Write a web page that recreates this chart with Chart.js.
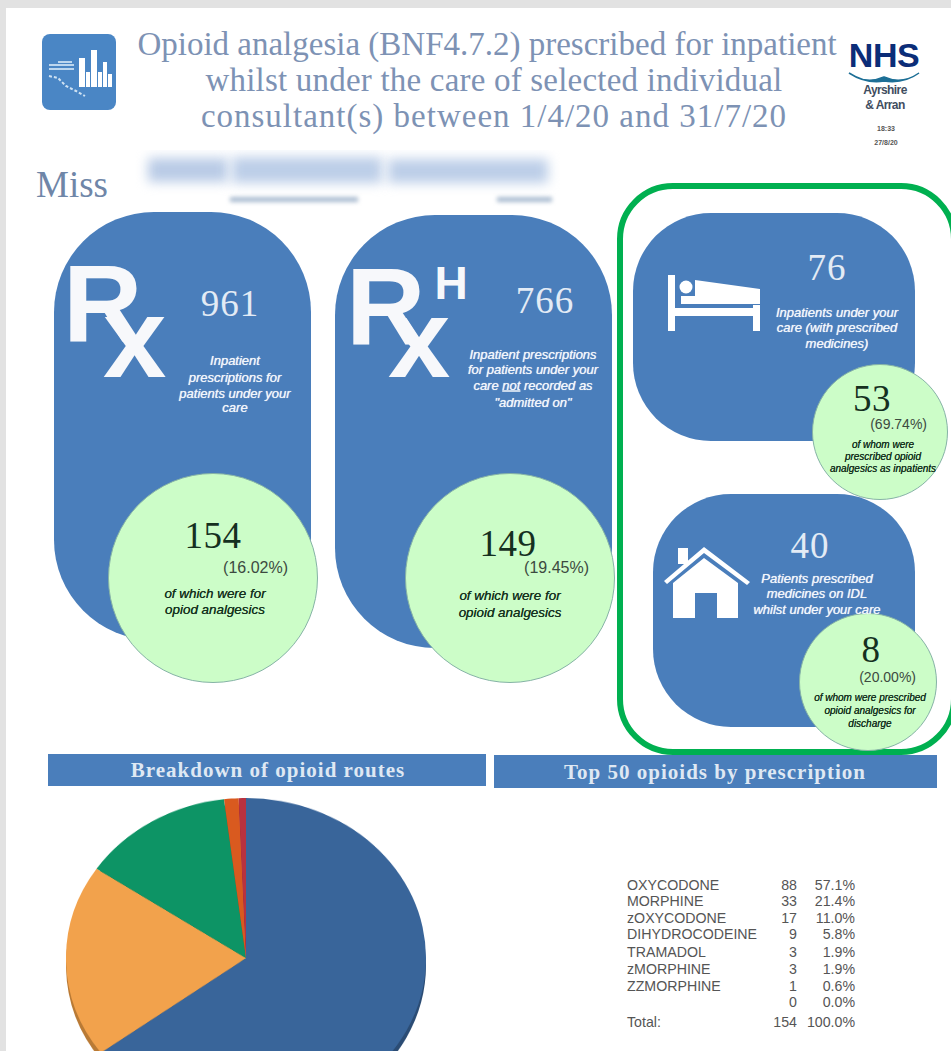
<!DOCTYPE html>
<html>
<head>
<meta charset="utf-8">
<title>Opioid analgesia prescribing</title>
<script src="https://cdn.jsdelivr.net/npm/chart.js@4"></script>
<style>
html, body { margin: 0; padding: 0; }
body { width: 951px; height: 1051px; overflow: hidden; background: #e2e2e2; position: relative; font-family: "Liberation Sans", sans-serif; }
#hoja { position: absolute; left: 6px; top: 8px; right: 0; bottom: 0; background: #fff; }
.abs { position: absolute; }
.txt { position: absolute; white-space: nowrap; line-height: 1; }
.panel { position: absolute; background: #4a7ebb; }
.circle { position: absolute; border-radius: 50%; background: #ccfdc8; box-sizing: border-box; border: 1.5px solid #86b3a6; }
.bar { position: absolute; background: #4a7ebb; }
canvas { position: absolute; }
</style>
</head>
<body>
<div id="hoja"></div>
<script>
// Pie: prescriptions per route
const routeLabels = ['Route 1', 'Route 2', 'Route 3', 'Route 4', 'Route 5'];
const routeCounts = [100, 30, 21, 2, 1];
const routeColours = ['#39659a', '#f2a24c', '#0d9465', '#d95a1f', '#b8323f'];
const routeRimColours = ['#2b4c74', '#b97a35', '#0a6e4b', '#a04318', '#8a2530'];

// Table: top opioids
const opioidNames = ['OXYCODONE', 'MORPHINE', 'zOXYCODONE', 'DIHYDROCODEINE', 'TRAMADOL', 'zMORPHINE', 'ZZMORPHINE', ''];
const opioidCounts = ['88', '33', '17', '9', '3', '3', '1', '0'];
const opioidShares = ['57.1%', '21.4%', '11.0%', '5.8%', '1.9%', '1.9%', '0.6%', '0.0%'];
const opioidRowY = [885, 901, 918, 934, 952, 969, 986, 1002];
const opioidTotal = ['Total:', '154', '100.0%'];

// Headline numbers on the cards
const cardTotals = ['961', '766', '76', '40'];
const cardOpioids = ['154', '149', '53', '8'];
const cardShares = ['(16.02%)', '(19.45%)', '(69.74%)', '(20.00%)'];

const titleLines = [
    'Opioid analgesia (BNF4.7.2) prescribed for inpatient',
    'whilst under the care of selected individual',
    'consultant(s) between 1/4/20 and 31/7/20'
];

const SERIF = '"Liberation Serif", serif';
const WHITEISH = '#e3ebf5';

// anchor: 'c' centred on x, 'r' right edge on x, 'l' left edge on x. y is always the middle of the text
function put(text, x, y, css, anchor) {
    const d = document.createElement('div');
    d.className = 'txt';
    d.innerHTML = text;
    d.style.cssText = `left:${x}px;top:${y}px;` + css;
    const tx = anchor === 'r' ? '-100%' : anchor === 'l' ? '0' : '-50%';
    d.style.transform = `translate(${tx},-50%)`;
    document.body.appendChild(d);
    return d;
}

function box(cls, x, y, w, h, radius) {
    const d = document.createElement('div');
    d.className = cls;
    d.style.cssText = `left:${x}px;top:${y}px;width:${w}px;height:${h}px;` + (radius ? `border-radius:${radius}px;` : '');
    document.body.appendChild(d);
    return d;
}

function circle(cx, cy, r) {
    return box('circle', cx - r, cy - r, r * 2, r * 2);
}

function svg(x, y, w, h, inner) {
    const d = document.createElement('div');
    d.className = 'abs';
    d.style.cssText = `left:${x}px;top:${y}px;width:${w}px;height:${h}px;`;
    d.innerHTML = `<svg width="${w}" height="${h}" viewBox="0 0 ${w} ${h}" style="display:block">${inner}</svg>`;
    document.body.appendChild(d);
}

// small white italic captions on the blue cards
function caption(lines, x, ys, size) {
    lines.forEach((l, i) => put(l, x, ys[i], `font:italic ${size}px "Liberation Sans";color:#f2f6fb;text-shadow:0 0 0.7px #f2f6fb;`, 'c'));
}
function darkCaption(lines, x, ys, size) {
    lines.forEach((l, i) => put(l, x, ys[i], `font:italic ${size}px "Liberation Sans";color:#16331f;text-shadow:0 0 0.5px #16331f;`, 'c'));
}

// ---- header ----
const titleY = [44, 80, 116];
const titleX = [487, 494, 494];
const titleSpacing = [0, 0.2, 1];
titleLines.forEach((l, i) => {
    put(l, titleX[i], titleY[i], `font:33px ${SERIF};color:#7d92b4;letter-spacing:${titleSpacing[i]}px;`, 'c');
});
put('Miss', 36, 184, `font:37px ${SERIF};color:#6f86a8;`, 'l');

// report icon, top left
svg(42, 34, 74, 76, `
  <rect width="74" height="76" rx="8" fill="#4a86c5"/>
  <g fill="#fff">
    <rect x="37" y="24" width="6" height="29"/><rect x="44" y="38" width="4" height="15"/>
    <rect x="49" y="16" width="6" height="37"/><rect x="56" y="38" width="4" height="15"/>
    <rect x="61" y="28" width="4" height="25"/><rect x="66" y="40" width="4" height="13"/>
  </g>
  <g fill="#bcd6ee"><rect x="7" y="30" width="25" height="2"/><rect x="7" y="34" width="25" height="2"/><rect x="16" y="27" width="14" height="2"/></g>
  <path d="M7 42 L16 44 L24 52 L34 57 L43 62" stroke="#cfe2f3" stroke-width="2" fill="none" stroke-dasharray="3 2"/>
`);

// NHS mark, top right
put('NHS', 884, 55, 'font:bold 34px "Liberation Sans";color:#0b2d78;letter-spacing:-0.5px;', 'c');
svg(848, 70, 72, 16, `<path d="M1 3 Q18 15 36 7 Q54 15 71 3 Q56 14 36 11 Q18 14 1 3Z" fill="#1d6f96" stroke="#1d6f96" stroke-width="1.5"/>`);
put('Ayrshire', 885, 90, 'font:bold 12px "Liberation Sans";color:#3f4d60;letter-spacing:-0.6px;', 'c');
put('&amp; Arran', 885, 105, 'font:bold 12px "Liberation Sans";color:#3f4d60;letter-spacing:-0.6px;', 'c');
put('18:33', 886, 128, 'font:bold 7px "Liberation Sans";color:#555;', 'c');
put('27/8/20', 886, 142, 'font:bold 7px "Liberation Sans";color:#555;', 'c');

// ---- cards ----
box('panel', 54, 212, 257, 428, 100);
box('panel', 335, 215, 277, 433, 100);
box('panel', 633, 213, 282, 228, 78);
box('panel', 653, 494, 262, 233, 78);

// frame around the two patient cards, runs off the right of the page
const frame = box('abs', 617, 183, 340, 572, 56);
frame.style.boxSizing = 'border-box';
frame.style.border = '6px solid #00b050';

circle(213, 578, 105);
circle(510, 578, 105);
circle(880, 432, 68);
circle(868, 682, 69);

// Rx symbols, boxes kept tight to the letters because the x tucks under the R
const RX = 'font-family:"Liberation Sans";font-weight:bold;color:#f7f8fb;line-height:0.7;';
put('R', 63, 303, RX + 'font-size:110px;', 'l');
put('x', 103, 337, RX + 'font-size:114px;line-height:0.5;', 'l');
put('R', 346, 306, RX + 'font-size:110px;', 'l');
put('x', 388, 339, RX + 'font-size:112px;line-height:0.5;', 'l');
put('H', 451, 283, RX + 'font-size:46px;', 'c');

const bigWhite = `font:37px ${SERIF};color:${WHITEISH};letter-spacing:1px;`;
const bigDark = `font:37px ${SERIF};color:#15301f;letter-spacing:0.5px;`;
const pct = 'font:16px "Liberation Sans";color:#3c4a40;';
const pctSmall = 'font:14px "Liberation Sans";color:#3c4a40;';

put(cardTotals[0], 230, 303, bigWhite, 'c');
caption(['Inpatient', 'prescriptions for', 'patients under your', 'care'], 235, [360, 377, 393, 407], 13);
put(cardOpioids[0], 213, 535, bigDark, 'c');
put(cardShares[0], 288, 568, pct, 'r');
darkCaption(['of which were for', 'opiod analgesics'], 215, [593, 609], 13.4);

put(cardTotals[1], 545, 300, bigWhite, 'c');
caption(['Inpatient prescriptions', 'for patients under your', 'care <u>not</u> recorded as', '"admitted on"'], 533, [354, 369, 385, 402], 13);
put(cardOpioids[1], 508, 543, bigDark, 'c');
put(cardShares[1], 589, 568, pct, 'r');
darkCaption(['of which were for', 'opioid analgesics'], 510, [595, 612], 13.4);

put(cardTotals[2], 827, 267, bigWhite, 'c');
caption(['Inpatients under your', 'care (with prescribed', 'medicines)'], 837, [312, 327, 343], 13);
put(cardOpioids[2], 872, 398, bigDark, 'c');
put(cardShares[2], 927, 424, pctSmall, 'r');
darkCaption(['of whom were', 'prescribed opioid', 'analgesics as inpatients'], 883, [444, 456, 468], 10);

put(cardTotals[3], 810, 545, bigWhite, 'c');
caption(['Patients prescribed', 'medicines on IDL', 'whilst under your care'], 817, [578, 593, 609], 13);
put(cardOpioids[3], 871, 649, bigDark, 'c');
put(cardShares[3], 916, 677, pctSmall, 'r');
darkCaption(['of whom were prescribed', 'opioid analgesics for', 'discharge'], 870, [697, 710, 723], 10);

// bed icon
svg(668, 275, 92, 56, `
  <g fill="#fff">
    <rect x="0" y="0" width="7" height="56"/>
    <rect x="85" y="30" width="7" height="26"/>
    <rect x="7" y="33" width="85" height="8"/>
    <circle cx="18" cy="12" r="6.5"/>
    <path d="M27 5 L92 14 L92 29 L13 29 L13 21 L27 21 Z"/>
  </g>
`);

// house icon
svg(663, 545, 88, 74, `
  <g fill="#fff">
    <path d="M1 36 L41 2 L87 37 L84 40 L41 8 L4 39 Z"/>
    <rect x="15" y="3" width="10" height="16"/>
    <path d="M10 38 L41 13 L75 38 L75 73 L54 73 L54 48 L32 48 L32 73 L10 73 Z"/>
  </g>
`);

// ---- section headers ----
box('bar', 48, 754, 438, 32);
box('bar', 494, 755, 443, 33);
const barFont = `font:bold 21px ${SERIF};color:#dfe8f3;letter-spacing:1px;`;
put('Breakdown of opioid routes', 268, 770, barFont, 'c');
put('Top 50 opioids by prescription', 715, 772, barFont, 'c');

// ---- table ----
const rowFont = 'font:14.2px "Liberation Sans";color:#555;';
opioidNames.forEach((n, i) => {
    const y = opioidRowY[i];
    if (n) put(n, 627, y, rowFont, 'l');
    put(opioidCounts[i], 797, y, rowFont, 'r');
    put(opioidShares[i], 855, y, rowFont, 'r');
});
put(opioidTotal[0], 627, 1022, rowFont, 'l');
put(opioidTotal[1], 797, 1022, rowFont, 'r');
put(opioidTotal[2], 855, 1022, rowFont, 'r');

// ---- pie, squashed a little so it looks tilted, with a darker copy underneath as the rim ----
function crearPie(id, top, colores) {
    const c = document.createElement('canvas');
    c.id = id;
    c.width = 360;
    c.height = 360;
    c.style.cssText = `left:66px;top:${top}px;width:360px;height:360px;transform-origin:0 0;transform:scaleY(0.889);`;
    document.body.appendChild(c);
    return new Chart(c.getContext('2d'), {
        type: 'pie',
        data: {
            labels: routeLabels,
            datasets: [{ data: routeCounts, backgroundColor: colores, borderWidth: 0 }]
        },
        options: {
            responsive: false,
            animation: false,
            layout: { padding: 0 },
            plugins: { legend: { display: false }, tooltip: { enabled: false } }
        }
    });
}
crearPie('pieRim', 805, routeRimColours);
crearPie('pieTop', 798, routeColours);

// name strip, deliberately smudged out
const tira = box('abs', 120, 150, 440, 60);
tira.style.overflow = 'hidden';
tira.innerHTML = `
  <div class="abs" style="left:28px;top:8px;width:80px;height:24px;background:#b9cbe6;filter:blur(6px)"></div>
  <div class="abs" style="left:112px;top:7px;width:150px;height:26px;background:#bccee8;filter:blur(6px)"></div>
  <div class="abs" style="left:268px;top:9px;width:160px;height:24px;background:#bccee8;filter:blur(6px)"></div>
  <div class="abs" style="left:110px;top:47px;width:128px;height:5px;background:#a9bbd0;filter:blur(2px)"></div>
  <div class="abs" style="left:377px;top:47px;width:55px;height:5px;background:#a9bbd0;filter:blur(2px)"></div>
`;
</script>
</body>
</html>
